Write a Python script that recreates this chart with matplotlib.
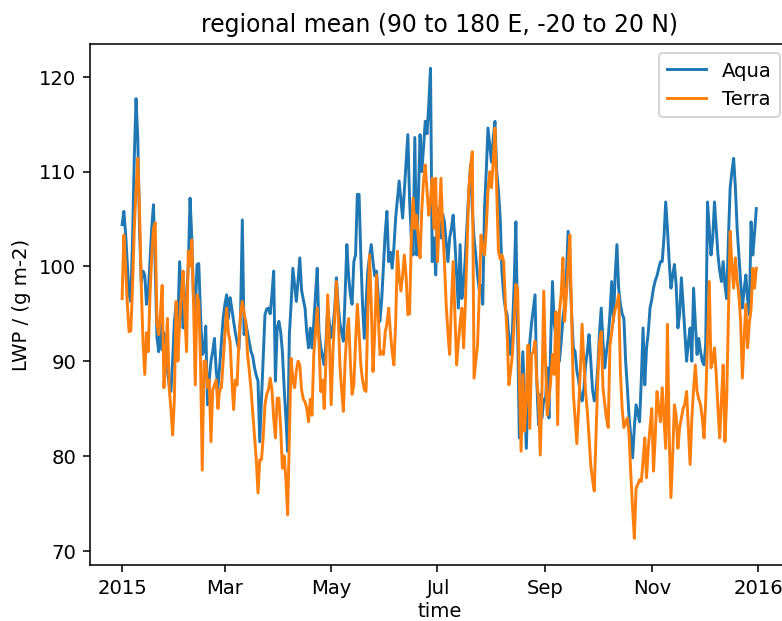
import numpy as np
import pandas as pd
import matplotlib
matplotlib.use("Agg")
import matplotlib.pyplot as plt
import matplotlib.dates as mdates

# daily regional mean LWP (g m-2), 2015
aqua = [
    104.4, 105.8, 103.5, 100.2, 97.0, 96.3, 103.0, 111.5, 117.7, 113.5,
    104.0, 98.4, 99.5, 99.1, 96.0, 97.2, 100.5, 104.0, 106.5, 100.0,
    92.5, 91.0, 94.0, 91.2, 93.0, 92.0, 89.0, 87.5, 86.8, 90.0,
    94.2, 96.0, 94.0, 100.5, 97.0, 93.5, 95.0, 97.0, 100.0, 107.2,
    103.0, 96.5, 95.0, 100.2, 100.3, 95.0, 90.7, 91.0, 93.7, 85.4,
    88.0, 90.0, 91.0, 92.4, 89.0, 87.2, 89.5, 92.0, 94.5, 96.0,
    97.0, 94.5, 96.7, 95.5, 94.2, 93.0, 92.0, 91.2, 95.0, 104.9,
    92.8, 94.0, 93.0, 92.0, 91.0, 90.5, 89.3, 88.5, 87.9, 81.5,
    86.0, 90.5, 94.9, 95.5, 95.6, 95.0, 97.0, 99.5, 87.9, 93.5,
    94.2, 93.1, 91.0, 87.2, 84.0, 80.5, 92.8, 96.0, 99.8, 98.0,
    96.3, 98.5, 100.9, 97.5, 96.5, 95.6, 93.0, 91.4, 93.5, 91.4,
    94.0, 97.0, 99.8, 93.1, 91.5, 90.5, 89.6, 92.0, 95.6, 94.0,
    92.5, 93.5, 95.5, 98.8, 96.0, 94.0, 93.0, 92.1, 97.0, 102.3,
    99.0, 97.0, 96.0, 100.5, 101.2, 107.6, 107.6, 101.2, 96.0, 92.4,
    96.0, 99.5, 101.0, 102.3, 100.5, 99.0, 99.5, 97.0, 94.2, 96.5,
    100.0, 103.5, 105.8, 100.5, 101.5, 99.8, 102.0, 105.1, 107.0, 109.0,
    107.0, 105.1, 108.0, 111.0, 113.9, 107.0, 103.0, 101.2, 113.6, 101.2,
    107.0, 113.9, 110.0, 112.5, 115.3, 114.0, 117.0, 120.9, 100.5, 103.0,
    99.1, 106.1, 104.5, 103.0, 105.5, 104.7, 102.5, 100.5, 103.0, 104.0,
    105.4, 102.6, 99.0, 95.6, 102.3, 96.6, 98.0, 101.0, 104.5, 108.0,
    110.7, 106.0, 103.0, 101.2, 99.0, 97.5, 98.0, 96.0, 106.1, 110.0,
    114.6, 112.8, 111.0, 113.5, 115.3, 110.0, 108.0, 105.1, 99.5, 97.0,
    95.5, 94.9, 92.5, 90.7, 93.1, 98.0, 104.7, 93.0, 81.9, 86.0,
    91.0, 86.0, 80.8, 87.0, 92.0, 94.0, 95.5, 97.0, 88.0, 83.3,
    86.5, 84.0, 86.0, 85.8, 89.3, 84.0, 92.0, 98.4, 94.0, 92.5,
    93.0, 90.0, 92.0, 94.5, 96.0, 99.0, 103.7, 100.0, 95.0, 91.4,
    91.0, 89.0, 88.0, 86.5, 85.8, 87.0, 89.5, 91.0, 92.8, 90.0,
    87.0, 85.8, 86.8, 89.3, 93.0, 95.6, 92.0, 89.3, 91.0, 92.4,
    95.0, 98.4, 94.2, 99.0, 102.3, 97.7, 96.0, 95.0, 94.5, 90.0,
    87.2, 84.0, 82.0, 79.8, 83.0, 85.4, 84.5, 83.6, 88.0, 93.5,
    87.5, 91.4, 93.0, 95.6, 96.5, 97.7, 98.5, 99.0, 99.8, 100.5,
    100.5, 103.0, 106.8, 104.0, 100.5, 97.7, 99.0, 100.2, 98.0, 93.5,
    95.0, 98.8, 96.0, 93.0, 90.0, 92.0, 93.5, 90.0, 97.7, 94.0,
    90.7, 92.4, 91.0, 90.0, 89.6, 92.0, 106.8, 104.0, 101.2, 103.0,
    106.8, 104.0, 101.2, 99.5, 98.4, 100.5, 98.0, 96.6, 103.0, 108.3,
    110.0, 111.4, 108.3, 104.0, 101.2, 98.4, 95.6, 97.5, 99.1, 96.5,
    94.9, 104.7, 101.2, 103.5, 106.1,
]

terra = [
    96.6, 103.3, 100.0, 96.0, 93.1, 93.2, 98.0, 104.0, 108.0, 111.4,
    106.0, 98.0, 92.0, 88.6, 93.0, 91.0, 97.0, 101.0, 104.0, 104.6,
    94.0, 92.8, 95.0, 98.0, 87.2, 90.0, 94.5, 87.2, 85.0, 82.2,
    86.0, 96.3, 90.0, 94.0, 97.0, 99.5, 95.0, 91.0, 101.6, 100.0,
    102.8, 96.0, 87.5, 97.0, 96.3, 90.0, 78.5, 90.0, 90.0, 87.2,
    88.0, 81.5, 87.0, 87.5, 88.0, 85.0, 87.0, 87.2, 90.0, 92.8,
    95.6, 93.0, 92.0, 88.0, 84.9, 88.0, 87.5, 92.0, 95.0, 96.3,
    95.0, 94.2, 90.7, 89.0, 87.0, 84.5, 82.0, 79.6, 76.1, 79.6,
    79.6, 82.0, 85.4, 86.5, 87.0, 88.2, 87.0, 84.0, 81.9, 86.1,
    86.1, 83.0, 78.7, 80.0, 77.6, 73.8, 82.0, 90.3, 88.0, 87.2,
    89.0, 90.0, 89.6, 87.0, 86.0, 85.7, 85.0, 83.6, 86.0, 84.3,
    90.7, 93.0, 95.6, 92.0, 86.8, 88.0, 85.0, 90.0, 97.0, 92.0,
    85.4, 91.0, 94.5, 98.4, 95.0, 89.6, 87.0, 84.7, 90.0, 93.0,
    94.5, 90.0, 86.5, 87.5, 92.0, 96.0, 93.0, 89.6, 88.0, 87.0,
    86.8, 95.0, 101.2, 96.0, 88.9, 93.0, 99.1, 95.0, 90.7, 91.0,
    90.7, 93.0, 94.0, 95.6, 93.0, 91.0, 89.6, 94.0, 101.6, 99.0,
    97.4, 99.0, 101.2, 99.0, 94.9, 95.0, 103.0, 107.2, 104.0, 105.4,
    103.0, 100.9, 106.0, 109.0, 110.7, 108.0, 105.4, 107.0, 109.3, 104.0,
    109.3, 100.5, 105.0, 109.3, 104.0, 100.5, 96.0, 93.0, 90.7, 96.0,
    100.5, 95.0, 89.6, 92.0, 94.0, 95.6, 91.4, 96.0, 102.0, 108.0,
    110.5, 112.1, 88.2, 90.0, 91.7, 97.0, 103.3, 102.0, 101.2, 104.0,
    108.0, 110.0, 108.3, 111.0, 114.6, 108.0, 101.6, 100.8, 101.2, 100.5,
    96.0, 92.8, 87.5, 89.0, 90.7, 94.0, 98.1, 97.7, 88.0, 80.5,
    88.6, 82.6, 86.0, 91.7, 82.9, 90.7, 91.0, 92.1, 88.0, 86.1,
    80.1, 87.0, 97.4, 90.0, 84.3, 86.0, 88.0, 90.7, 88.6, 95.2,
    83.3, 95.2, 97.0, 100.9, 94.2, 97.0, 100.0, 103.3, 95.0, 86.5,
    84.0, 81.3, 85.0, 89.0, 93.9, 90.0, 86.8, 84.7, 82.0, 79.0,
    77.5, 76.3, 82.0, 88.0, 92.0, 93.1, 87.2, 85.5, 84.0, 83.0,
    91.7, 93.0, 94.5, 95.5, 96.0, 97.0, 88.9, 85.0, 83.0, 83.5,
    84.0, 82.2, 78.0, 74.5, 71.3, 76.6, 77.0, 77.5, 77.3, 79.5,
    81.9, 77.7, 80.8, 83.0, 85.0, 78.4, 82.0, 86.8, 85.0, 83.6,
    87.2, 84.0, 80.8, 93.9, 82.0, 75.6, 80.0, 85.4, 84.3, 80.8,
    83.0, 84.0, 85.0, 85.5, 86.8, 83.0, 79.1, 84.0, 87.0, 89.6,
    86.8, 86.0, 85.4, 84.0, 81.9, 86.0, 92.0, 98.4, 89.3, 90.0,
    91.4, 88.6, 85.0, 81.9, 86.0, 89.6, 81.5, 86.0, 95.0, 103.7,
    100.0, 97.7, 100.9, 98.5, 97.0, 94.2, 88.2, 92.4, 96.0, 91.4,
    94.0, 95.5, 99.8, 97.7, 99.8,
]

time = pd.date_range("2015-01-01", periods=len(aqua), freq="D")

fig = plt.figure(figsize=(782.4 / 141, 621.4 / 141), dpi=141)
# axes runs past the right edge, the reference is cropped there
ax = fig.add_axes([90 / 782, 1 - 565 / 621, 699 / 782, 521 / 621])

ax.plot(time, aqua, label="Aqua")
ax.plot(time, terra, label="Terra")

ax.set_xlim(pd.Timestamp("2015-01-01") - pd.Timedelta(days=18.4),
            pd.Timestamp("2015-12-31") + pd.Timedelta(days=19.0))
ax.set_ylim(68.5, 123.5)

loc = mdates.MonthLocator(bymonth=[1, 3, 5, 7, 9, 11])
ax.xaxis.set_major_locator(loc)
ax.xaxis.set_major_formatter(mdates.ConciseDateFormatter(loc))

ax.set_title("regional mean (90 to 180 E, -20 to 20 N)")
ax.set_xlabel("time", labelpad=2)
ax.set_ylabel("LWP / (g m-2)")
ax.legend(loc="upper right")

fig.savefig("out.png", dpi=141)
